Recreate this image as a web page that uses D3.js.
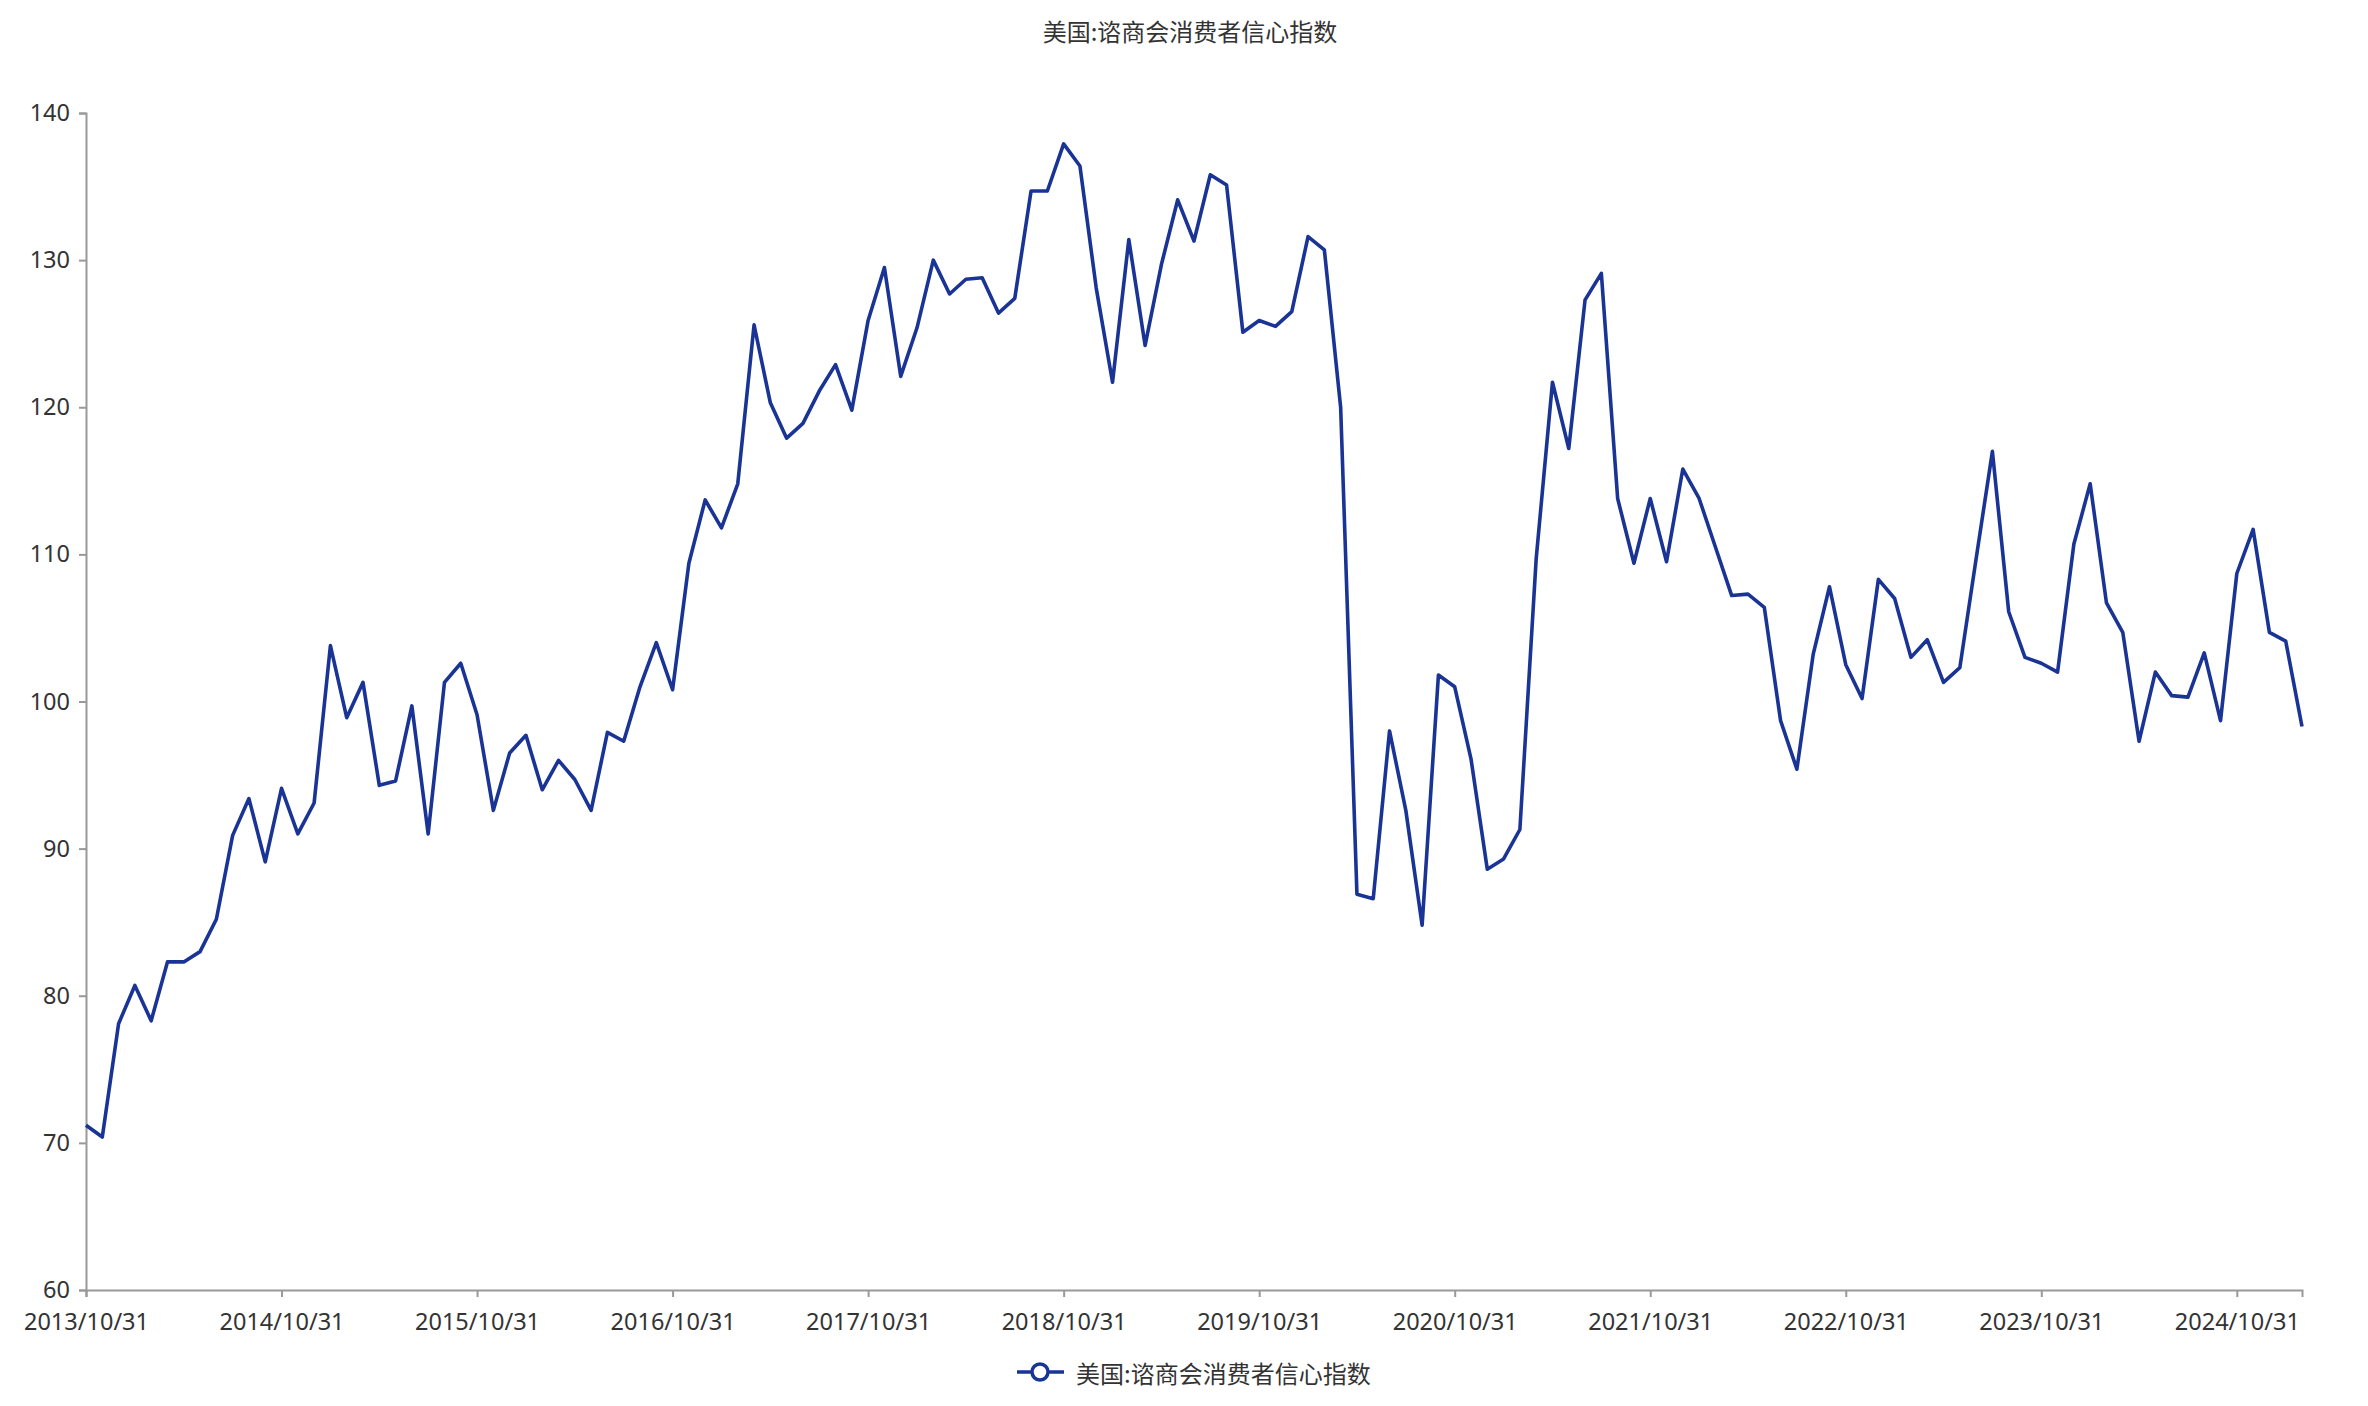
<!DOCTYPE html>
<html><head><meta charset="utf-8">
<script src="https://cdn.jsdelivr.net/npm/d3@7/dist/d3.min.js"></script>
<style>
html,body{margin:0;padding:0;background:#fff;}
svg text{font-family:"Noto Sans CJK SC","Noto Sans",sans-serif;}
</style></head>
<body>
<svg id="c" width="2368" height="1406"></svg>
<script>
const title = "美国:谘商会消费者信心指数";
const seriesName = "美国:谘商会消费者信心指数";
const startMonth = "2013-10";
const values = [
 71.2,70.4,78.1,
 80.7,78.3,82.3,82.3,83.0,85.2,90.9,93.4,89.1,94.1,91.0,93.1,
 103.8,98.9,101.3,94.3,94.6,99.7,91.0,101.3,102.6,99.1,92.6,96.5,
 97.7,94.0,96.0,94.7,92.6,97.9,97.3,101.0,104.0,100.8,109.4,113.7,
 111.8,114.8,125.6,120.3,117.9,118.9,121.1,122.9,119.8,125.9,129.5,122.1,
 125.4,130.0,127.7,128.7,128.8,126.4,127.4,134.7,134.7,137.9,136.4,128.1,
 121.7,131.4,124.2,129.7,134.1,131.3,135.8,135.1,125.1,125.9,125.5,126.5,
 131.6,130.7,120.0,86.9,86.6,98.0,92.6,84.8,101.8,101.0,96.1,88.6,
 89.3,91.3,109.7,121.7,117.2,127.3,129.1,113.8,109.4,113.8,109.5,115.8,
 113.8,110.5,107.2,107.3,106.4,98.7,95.4,103.2,107.8,102.5,100.2,108.3,
 107.0,103.0,104.2,101.3,102.3,109.7,117.0,106.1,103.0,102.6,102.0,110.7,
 114.8,106.7,104.7,97.3,102.0,100.4,100.3,103.3,98.7,108.7,111.7,104.7,
 104.1,98.3
];
const tickLabels = ["2013/10/31","2014/10/31","2015/10/31","2016/10/31","2017/10/31","2018/10/31",
 "2019/10/31","2020/10/31","2021/10/31","2022/10/31","2023/10/31","2024/10/31"];
const yTicks = [60,70,80,90,100,110,120,130,140];

// month-end category labels
const fmt = d3.timeFormat("%Y/%m/%d");
const start = d3.timeParse("%Y-%m")(startMonth);
const categories = values.map((v,i)=> fmt(d3.timeDay.offset(d3.timeMonth.offset(start, i+1), -1)));

const svg = d3.select("#c");
const L = 86, R = 2302, T = 113, B = 1290;
const x = d3.scalePoint().domain(categories).range([L, R]);
const y = d3.scaleLinear().domain([60, 140]).range([B, T]);
const axisColor = "#999", textColor = "#333", lineColor = "#1a3496";
const tickFont = '"Noto Sans","Noto Sans CJK SC",sans-serif';

// title
svg.append("text").attr("x", 1190).attr("y", 30).attr("text-anchor","middle")
  .attr("dominant-baseline","central").attr("font-size", 24).attr("fill", textColor).text(title);

// y axis
const ya = svg.append("g").attr("transform", `translate(${L},0)`)
  .call(d3.axisLeft(y).tickValues(yTicks).tickSize(7).tickPadding(9).tickFormat(d3.format("d")));
ya.select(".domain").attr("stroke", axisColor).attr("stroke-width", 2);
ya.selectAll(".tick line").attr("stroke", axisColor).attr("stroke-width", 2);
ya.selectAll(".tick text").attr("font-size", 23.5).attr("fill", textColor).style("font-family", tickFont);

// x axis
const xa = svg.append("g").attr("transform", `translate(0,${B})`)
  .call(d3.axisBottom(x).tickValues(tickLabels).tickSize(7).tickPadding(16));
xa.select(".domain").attr("stroke", axisColor).attr("stroke-width", 2);
xa.selectAll(".tick line").attr("stroke", axisColor).attr("stroke-width", 2);
xa.selectAll(".tick text").attr("font-size", 23.5).attr("fill", textColor).style("font-family", tickFont);

// line
const line = d3.line().x((d,i)=>x(categories[i])).y(d=>y(d));
svg.append("path").datum(values).attr("d", line).attr("fill","none")
  .attr("stroke", lineColor).attr("stroke-width", 3.6).attr("stroke-linejoin","round");

// legend
const lg = svg.append("g");
lg.append("line").attr("x1",1017).attr("x2",1064).attr("y1",1372).attr("y2",1372)
  .attr("stroke", lineColor).attr("stroke-width",3.5);
lg.append("circle").attr("cx",1040).attr("cy",1372).attr("r",8).attr("fill","#fff")
  .attr("stroke", lineColor).attr("stroke-width",3.5);
lg.append("text").attr("x",1076).attr("y",1372).attr("dominant-baseline","central")
  .attr("font-size",24).attr("fill",textColor).text(seriesName);
</script>
</body></html>
